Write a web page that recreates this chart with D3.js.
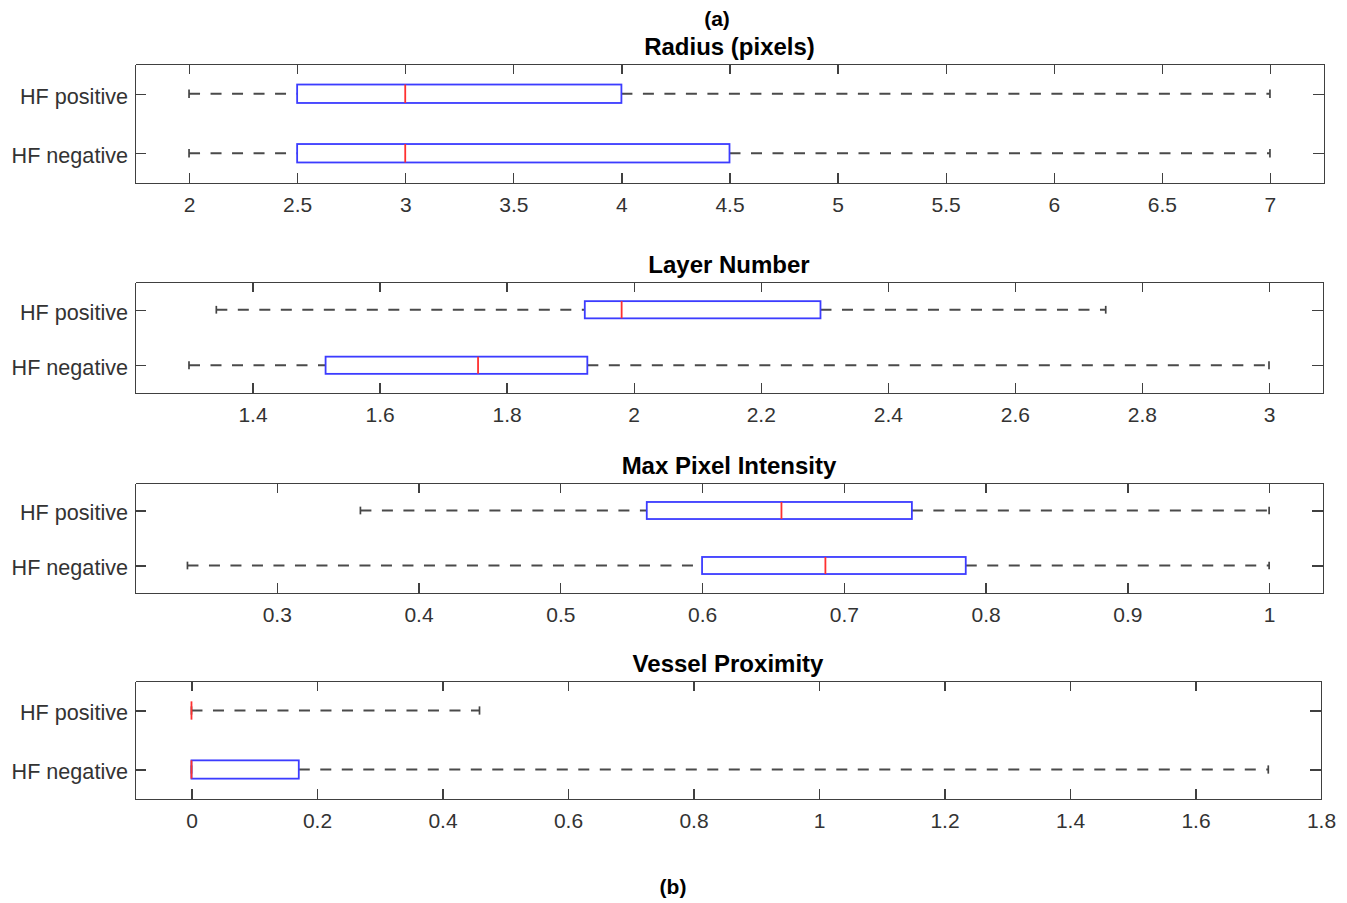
<!DOCTYPE html>
<html lang="en">
	<head>
		<meta charset="utf-8">
		<title>Boxplots: HF positive vs HF negative</title>
		<script type="text/javascript" src="https://cdn.jsdelivr.net/npm/d3@7"></script>
		<style type="text/css">
			body { margin: 0; background: #fff; }
			svg { display: block; }
			.axis path,
			.axis line {
				fill: none;
				stroke: #404040;
				stroke-width: 1.3px;
				shape-rendering: crispEdges;
			}
			.axis text {
				font-family: "Liberation Sans", Arial, sans-serif;
				font-size: 21px;
				fill: #333;
			}
			.yaxis text {
				font-size: 21.6px;
			}
			.title {
				font-family: "Liberation Sans", Arial, sans-serif;
				font-weight: bold;
				fill: #000;
			}
		</style>
	</head>
	<body>
		<script type="text/javascript">

			//SVG width and height
			var w = 1347;
			var h = 903;

			//Data: groups, panel titles, tick values and [min, q1, median, q3, max] per group
			var groups = ["HF positive", "HF negative"];
			var panelTitles = ["Radius (pixels)", "Layer Number", "Max Pixel Intensity", "Vessel Proximity"];

			var radiusStats    = [[2, 2.5, 3, 4, 7], [2, 2.5, 3, 4.5, 7]];
			var layerStats     = [[1.343, 1.923, 1.981, 2.294, 2.743], [1.3, 1.515, 1.755, 1.927, 3]];
			var intensityStats = [[0.359, 0.561, 0.656, 0.748, 1], [0.237, 0.6, 0.687, 0.786, 1]];
			var proximityStats = [[0, 0, 0, 0, 0.459], [0, 0, 0, 0.171, 1.716]];

			var radiusTicks    = [2, 2.5, 3, 3.5, 4, 4.5, 5, 5.5, 6, 6.5, 7];
			var layerTicks     = [1.4, 1.6, 1.8, 2, 2.2, 2.4, 2.6, 2.8, 3];
			var intensityTicks = [0.3, 0.4, 0.5, 0.6, 0.7, 0.8, 0.9, 1];
			var proximityTicks = [0, 0.2, 0.4, 0.6, 0.8, 1, 1.2, 1.4, 1.6, 1.8];

			var radiusDomain    = [1.75, 7.25];
			var layerDomain     = [1.215, 3.085];
			var intensityDomain = [0.2, 1.038];
			var proximityDomain = [-0.09, 1.8];

			// panel layout (pixels)
			var left = 135;
			var layout = [
				{top: 64,  bottom: 183, right: 1324},
				{top: 282, bottom: 393, right: 1323},
				{top: 483, bottom: 593, right: 1323},
				{top: 681, bottom: 799, right: 1321}
			];

			var panels = [
				{title: panelTitles[0], stats: radiusStats,    ticks: radiusTicks,    domain: radiusDomain},
				{title: panelTitles[1], stats: layerStats,     ticks: layerTicks,     domain: layerDomain},
				{title: panelTitles[2], stats: intensityStats, ticks: intensityTicks, domain: intensityDomain},
				{title: panelTitles[3], stats: proximityStats, ticks: proximityTicks, domain: proximityDomain}
			];

			var boxHalf = 0.155;   // half box height, in category units
			var capHalf = 0.07;    // half whisker cap height

			var svg = d3.select("body")
						.append("svg")
						.attr("width", w)
						.attr("height", h);

			svg.append("rect")
				.attr("width", w)
				.attr("height", h)
				.attr("fill", "#fff");

			// figure labels
			svg.append("text")
				.attr("class", "title")
				.attr("x", 717)
				.attr("y", 26)
				.attr("text-anchor", "middle")
				.style("font-size", "21px")
				.text("(a)");

			svg.append("text")
				.attr("class", "title")
				.attr("x", 673)
				.attr("y", 894)
				.attr("text-anchor", "middle")
				.style("font-size", "21px")
				.text("(b)");

			panels.forEach(function(p, k) {
				var L = layout[k];

				var xScale = d3.scaleLinear()
								.domain(p.domain)
								.range([left, L.right]);

				var yScale = d3.scaleLinear()
								.domain([0.5, 2.5])
								.range([L.top, L.bottom]);

				var g = svg.append("g");

				// title
				g.append("text")
					.attr("class", "title")
					.attr("x", (left + L.right) / 2)
					.attr("y", L.top - 9)
					.attr("text-anchor", "middle")
					.style("font-size", "24px")
					.text(p.title);

				// axes: ticks pointing inward on all four sides
				g.append("g")
					.attr("class", "axis")
					.attr("transform", "translate(0," + L.bottom + ")")
					.call(d3.axisBottom(xScale)
						.tickValues(p.ticks)
						.tickFormat(d3.format("~g"))
						.tickSizeInner(-10)
						.tickSizeOuter(0)
						.tickPadding(14));

				g.append("g")
					.attr("class", "axis")
					.attr("transform", "translate(0," + L.top + ")")
					.call(d3.axisTop(xScale)
						.tickValues(p.ticks)
						.tickFormat("")
						.tickSizeInner(-10)
						.tickSizeOuter(0));

				g.append("g")
					.attr("class", "axis yaxis")
					.attr("transform", "translate(" + left + ",0)")
					.call(d3.axisLeft(yScale)
						.tickValues([1, 2])
						.tickFormat(function(d) { return groups[d - 1]; })
						.tickSizeInner(-11)
						.tickSizeOuter(0)
						.tickPadding(7))
					.selectAll("text")
					.attr("dy", "0.43em");

				g.append("g")
					.attr("class", "axis")
					.attr("transform", "translate(" + L.right + ",0)")
					.call(d3.axisRight(yScale)
						.tickValues([1, 2])
						.tickFormat("")
						.tickSizeInner(-11)
						.tickSizeOuter(0));

				// boxes
				var box = g.selectAll(".bp")
					.data(p.stats)
					.enter()
					.append("g")
					.attr("class", "bp");

				// whiskers (lower drawn from min, upper from q3)
				box.append("line")
					.attr("x1", function(d) { return xScale(d[0]); })
					.attr("x2", function(d) { return xScale(d[1]); })
					.attr("y1", function(d, i) { return yScale(i + 1); })
					.attr("y2", function(d, i) { return yScale(i + 1); })
					.attr("stroke", "#4a4a4a")
					.attr("stroke-width", 1.9)
					.attr("stroke-dasharray", "11,10.5");

				box.append("line")
					.attr("x1", function(d) { return xScale(d[3]); })
					.attr("x2", function(d) { return xScale(d[4]); })
					.attr("y1", function(d, i) { return yScale(i + 1); })
					.attr("y2", function(d, i) { return yScale(i + 1); })
					.attr("stroke", "#4a4a4a")
					.attr("stroke-width", 1.9)
					.attr("stroke-dasharray", "11,10.5");

				// whisker caps
				[0, 4].forEach(function(j) {
					box.append("line")
						.attr("x1", function(d) { return xScale(d[j]); })
						.attr("x2", function(d) { return xScale(d[j]); })
						.attr("y1", function(d, i) { return yScale(i + 1 - capHalf); })
						.attr("y2", function(d, i) { return yScale(i + 1 + capHalf); })
						.attr("stroke", "#444")
						.attr("stroke-width", 1.7);
				});

				// box q1..q3
				box.append("rect")
					.attr("x", function(d) { return xScale(d[1]); })
					.attr("width", function(d) { return xScale(d[3]) - xScale(d[1]); })
					.attr("y", function(d, i) { return yScale(i + 1 - boxHalf); })
					.attr("height", function(d, i) { return yScale(i + 1 + boxHalf) - yScale(i + 1 - boxHalf); })
					.attr("fill", "none")
					.attr("stroke", "#3c3cff")
					.attr("stroke-width", 1.8);

				// median
				box.append("line")
					.attr("x1", function(d) { return xScale(d[2]); })
					.attr("x2", function(d) { return xScale(d[2]); })
					.attr("y1", function(d, i) { return yScale(i + 1 - boxHalf); })
					.attr("y2", function(d, i) { return yScale(i + 1 + boxHalf); })
					.attr("stroke", "#ff3030")
					.attr("stroke-width", 1.8);
			});

		</script>
	</body>
</html>
